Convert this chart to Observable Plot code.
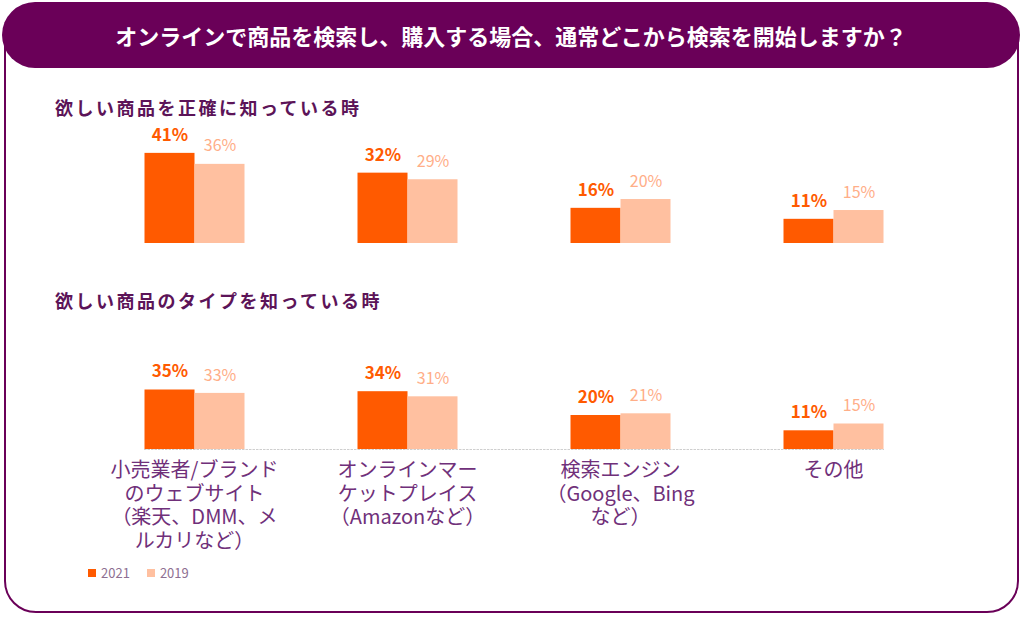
<!DOCTYPE html>
<html>
<head>
<meta charset="utf-8">
<script src="https://cdn.jsdelivr.net/npm/d3@7"></script>
<script src="https://cdn.jsdelivr.net/npm/@observablehq/plot@0.6"></script>
<style>
  html, body { margin: 0; padding: 0; background: #ffffff; }
  body { width: 1024px; height: 620px; position: relative; overflow: hidden;
         font-family: "Noto Sans CJK JP", "Noto Sans", sans-serif; }
  #frame { position: absolute; left: 4px; top: 4px; width: 1015px; height: 609px;
           border: 2px solid #6a0058; border-radius: 32px; box-sizing: border-box; }
  #header { position: absolute; left: 2px; top: 2px; width: 1018px; height: 66px;
            background: #6a0058; border-radius: 33px; color: #ffffff;
            display: flex; align-items: center; justify-content: center;
            font-size: 22px; font-weight: bold; }
  .section { position: absolute; left: 55px; font-size: 18px; font-weight: bold;
             color: #5c1458; letter-spacing: 2.5px; line-height: 20px; }
  .plot { position: absolute; left: 0; }
  #legend { position: absolute; left: 88px; top: 565px; font-size: 13px; color: #8e6f92;
            display: flex; align-items: center; line-height: 16px; }
  #legend .sw { width: 8px; height: 8px; display: inline-block; margin-right: 5px; }
  #legend .item { display: flex; align-items: center; margin-right: 17px; }
</style>
</head>
<body>
<div id="frame"></div>
<div id="header"></div>
<div class="section" id="sec1" style="top:97px"></div>
<div class="section" id="sec2" style="top:290px"></div>
<div class="plot" id="top" style="top:110px"></div>
<div class="plot" id="bottom" style="top:330px"></div>
<div id="legend"></div>
<script>
const titleText = "オンラインで商品を検索し、購入する場合、通常どこから検索を開始しますか？";
const sectionTitles = ["欲しい商品を正確に知っている時", "欲しい商品のタイプを知っている時"];
const categories = [
  "小売業者/ブランド\nのウェブサイト\n（楽天、DMM、メ\nルカリなど）",
  "オンラインマー\nケットプレイス\n（Amazonなど）",
  "検索エンジン\n（Google、Bing\nなど）",
  "その他"
];
const years = ["2021", "2019"];
const colors = ["#FF5A00", "#FFC0A0"];
const labelColors = ["#FF5A00", "#FFAE88"];
const exact2021 = [41, 32, 16, 11];
const exact2019 = [36, 29, 20, 15];
const type2021 = [35, 34, 20, 11];
const type2019 = [33, 31, 21, 15];

document.getElementById("header").textContent = titleText;
document.getElementById("sec1").textContent = sectionTitles[0];
document.getElementById("sec2").textContent = sectionTitles[1];

function rows(v21, v19) {
  const out = [];
  categories.forEach((c, i) => {
    out.push({cat: c, year: years[0], value: v21[i]});
    out.push({cat: c, year: years[1], value: v19[i]});
  });
  return out;
}

function makePlot(data, {height, marginBottom, yMax, withAxis}) {
  const marks = [
    Plot.barY(data, {fx: "cat", x: "year", y: "value", fill: "year"}),
    Plot.text(data.filter(d => d.year === years[0]), {
      fx: "cat", x: "year", y: "value", text: d => d.value + "%",
      dy: -18, fill: labelColors[0], fontSize: 17, fontWeight: "bold"
    }),
    Plot.text(data.filter(d => d.year === years[1]), {
      fx: "cat", x: "year", y: "value", text: d => d.value + "%",
      dy: -18, fill: labelColors[1], fontSize: 16
    })
  ];
  if (withAxis) {
    marks.unshift(Plot.frame({anchor: "bottom", facet: "super", stroke: "#cfcfcf", strokeDasharray: "1.5,2"}));
    marks.push(Plot.axisFx({anchor: "bottom", tickSize: 0, tickPadding: 11, fontSize: 20,
      lineHeight: 1.175, fill: "#70307a", label: null}));
  }
  return Plot.plot({
    width: 1024,
    height,
    marginTop: 0,
    marginBottom,
    marginLeft: 86.5,
    marginRight: 84,
    style: {fontFamily: '"Noto Sans CJK JP", "Noto Sans", sans-serif', background: "transparent", overflow: "visible"},
    fx: {domain: categories, paddingInner: 0.531, paddingOuter: 0.266, axis: null, label: null},
    x: {domain: years, padding: 0, axis: null},
    y: {domain: [0, yMax], axis: null},
    color: {domain: years, range: colors},
    marks
  });
}

document.getElementById("top").append(
  makePlot(rows(exact2021, exact2019), {height: 140, marginBottom: 7, yMax: 60.5, withAxis: false})
);
document.getElementById("bottom").append(
  makePlot(rows(type2021, type2019), {height: 240, marginBottom: 121, yMax: 70, withAxis: true})
);

const legend = document.getElementById("legend");
years.forEach((y, i) => {
  const item = document.createElement("span");
  item.className = "item";
  const sw = document.createElement("span");
  sw.className = "sw";
  sw.style.background = colors[i];
  item.append(sw, document.createTextNode(y));
  legend.append(item);
});
</script>
</body>
</html>
